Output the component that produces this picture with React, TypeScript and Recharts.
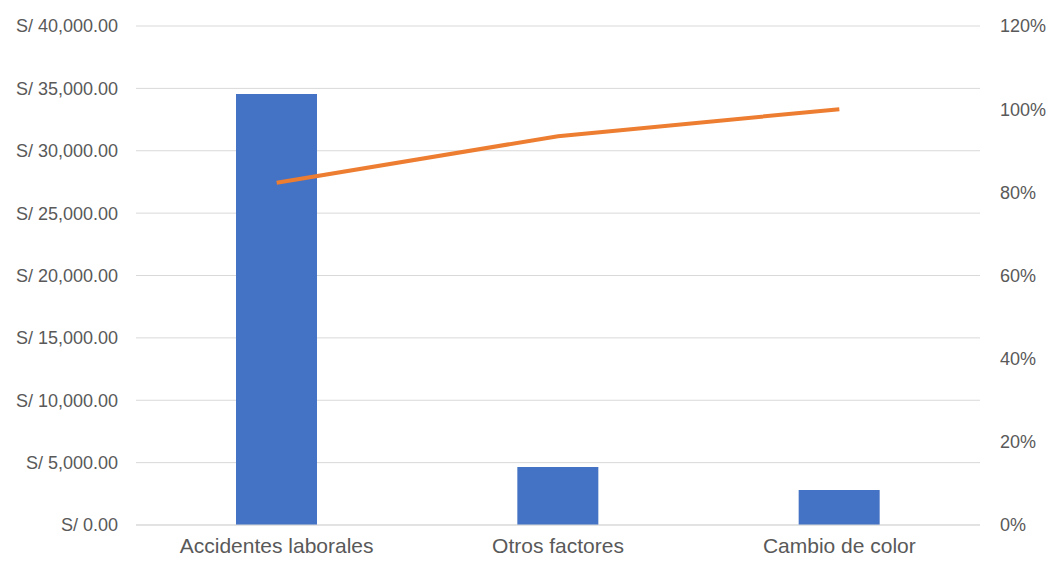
import React from 'react';
import {
  ComposedChart,
  Bar,
  Line,
  XAxis,
  YAxis,
  CartesianGrid,
} from 'recharts';

// Pareto of cost causes
const categories = ['Accidentes laborales', 'Otros factores', 'Cambio de color'];
const costs = [34550, 4650, 2800];
const cumulativePct = [82.3, 93.5, 100];

const leftTicks = [0, 5000, 10000, 15000, 20000, 25000, 30000, 35000, 40000];
const rightTicks = [0, 20, 40, 60, 80, 100, 120];

const chartData = categories.map((name, i) => ({
  name,
  cost: costs[i],
  pct: cumulativePct[i],
}));

const textColor = '#595959';
const gridColor = '#d9d9d9';

const formatSoles = (v: number) =>
  'S/ ' +
  v.toLocaleString('en-US', { minimumFractionDigits: 2, maximumFractionDigits: 2 });

export default function App() {
  return (
    <div style={{ position: 'absolute', left: 0, top: 0, width: 1048, height: 561, background: '#fff' }}>
      <ComposedChart
        width={1048}
        height={561}
        data={chartData}
        margin={{ top: 26, right: 0, bottom: 0, left: 0 }}
        style={{ fontFamily: '"Liberation Sans", Arial, sans-serif' }}
      >
        <CartesianGrid yAxisId="left" stroke={gridColor} vertical={false} />
        <XAxis
          dataKey="name"
          height={36}
          tickLine={false}
          tickSize={0}
          tickMargin={13}
          axisLine={{ stroke: gridColor }}
          tick={{ fill: textColor, fontSize: 21 }}
        />
        <YAxis
          yAxisId="left"
          width={136}
          domain={[0, 40000]}
          ticks={leftTicks}
          tickFormatter={formatSoles}
          axisLine={false}
          tickLine={false}
          tickSize={0}
          tickMargin={18}
          tick={{ fill: textColor, fontSize: 18 }}
        />
        <YAxis
          yAxisId="right"
          orientation="right"
          width={68}
          domain={[0, 120]}
          ticks={rightTicks}
          tickFormatter={(v: number) => `${v}%`}
          axisLine={false}
          tickLine={false}
          tickSize={0}
          tickMargin={20}
          tick={{ fill: textColor, fontSize: 18, textAnchor: 'start' }}
        />
        <Bar yAxisId="left" dataKey="cost" fill="#4472C4" barSize={81} isAnimationActive={false} />
        <Line
          yAxisId="right"
          type="linear"
          dataKey="pct"
          stroke="#ED7D31"
          strokeWidth={4}
          dot={false}
          activeDot={false}
          isAnimationActive={false}
        />
      </ComposedChart>
    </div>
  );
}
